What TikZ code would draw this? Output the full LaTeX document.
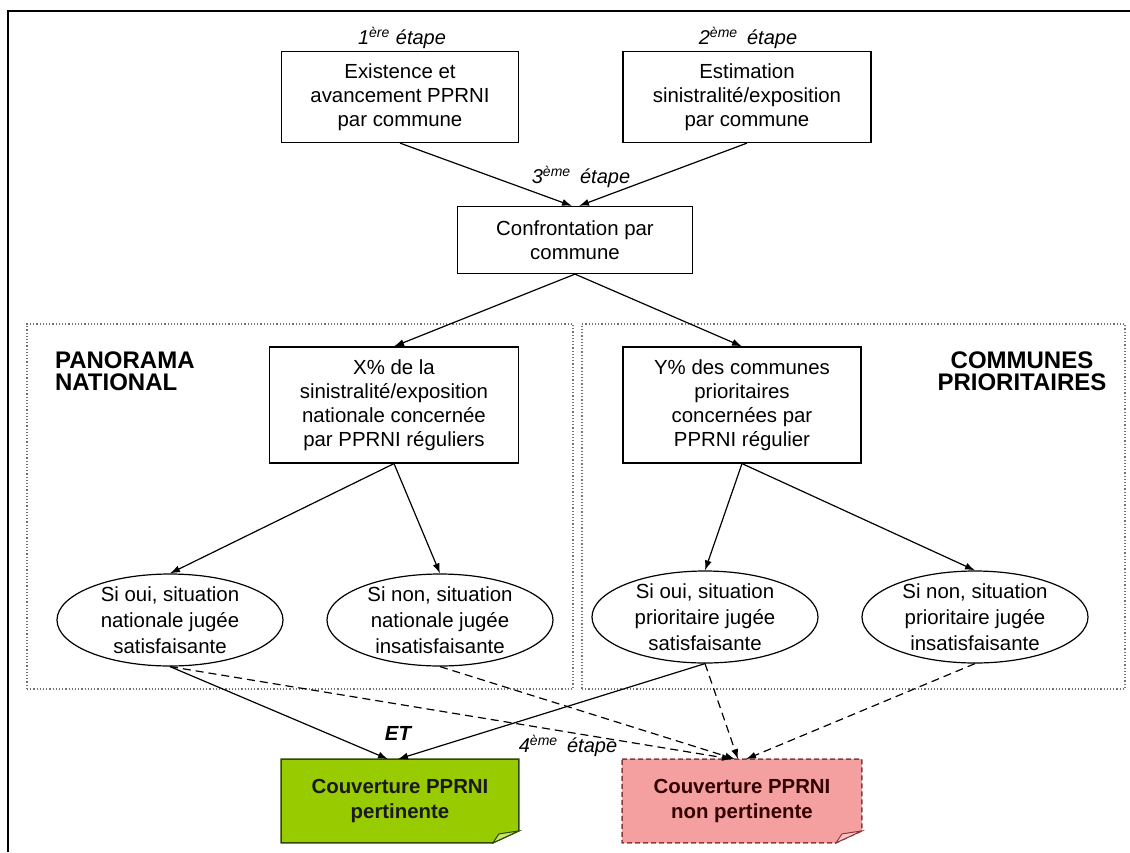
\documentclass[tikz,border=0pt]{standalone}
\usepackage{fontspec}
\setmainfont{Liberation Sans}
\usetikzlibrary{shapes.geometric,arrows.meta,backgrounds,calc}
\definecolor{notegreen}{HTML}{99CC00}
\definecolor{notegreenline}{HTML}{2E4A00}
\definecolor{notered}{HTML}{F5A0A0}
\definecolor{noteredline}{HTML}{8A3A3A}
\tikzset{%
  stepbox/.style    = {shape=rectangle, draw, line width=0.6pt, align=center, inner sep=2pt},%
  choice/.style     = {shape=ellipse, draw, line width=0.6pt, align=center,%
                       inner xsep=0pt, inner ysep=-3pt, minimum width=113pt, minimum height=46pt,%
                       font=\fontsize{10.2}{13}\selectfont},%
  verdict/.style    = {shape=rectangle, align=center, minimum width=118.5pt, minimum height=41.5pt,%
                       font=\fontsize{10.2}{12.5}\selectfont\bfseries},%
  panel/.style      = {shape=rectangle, draw=black!55, densely dotted, line width=0.6pt},%
  paneltitle/.style = {align=left, font=\fontsize{12}{11}\selectfont\bfseries},%
  steplabel/.style  = {font=\fontsize{10}{12}\selectfont\itshape},%
  link/.style       = {->, line width=0.6pt},%
  maybe/.style      = {link, dash pattern=on 4pt off 2.5pt}%
}

\begin{document}
\begin{tikzpicture}[x=0.5pt,y=-0.5pt,>={Latex[length=5pt,width=3.5pt]},every node/.style={font=\fontsize{10.2}{12}\selectfont}]
	\useasboundingbox (0,0) rectangle (1130,852);
	\draw[line width=1.4pt] (8,852) -- (8,11) -- (1130,11);
	% the two panels
	\node[panel, minimum width=273pt, minimum height=182.5pt] (natpanel) at (300,506.5) {};
	\node[panel, minimum width=271.5pt, minimum height=182.5pt] (priopanel) at (853.5,506.5) {};
	\node[paneltitle, anchor=west] (nattitle) at (48,371) {PANORAMA\\NATIONAL};
	\node[paneltitle, align=center] (priotitle) at (1022,371) {COMMUNES\\PRIORITAIRES};
	% steps 1 to 3
	\node[steplabel] (lab1) at (402,38) {1\textsuperscript{ère} étape};
	\node[stepbox, minimum width=118.5pt, minimum height=45.5pt] (exist) at (400,97) {Existence et\\avancement PPRNI\\par commune};
	\node[steplabel] (lab2) at (748,38) {2\textsuperscript{ème}\, étape};
	\node[stepbox, minimum width=124pt, minimum height=45.5pt] (estim) at (747,97) {Estimation\\sinistralité/exposition\\par commune};
	\node[steplabel] (lab3) at (581,177) {3\textsuperscript{ème}\, étape};
	\node[stepbox, minimum width=117.5pt, minimum height=33.5pt] (confront) at (575,240) {Confrontation par\\commune};
	\node[stepbox, minimum width=124.5pt, minimum height=58pt] (natbox) at (394,405) {X\% de la\\sinistralité/exposition\\nationale concernée\\par PPRNI réguliers};
	\node[stepbox, minimum width=119pt, minimum height=58pt] (priobox) at (742,405) {Y\% des communes\\prioritaires\\concernées par\\PPRNI régulier};
	% yes / no
	\node[choice] (natyes) at (170,620) {Si oui, situation\\nationale jugée\\satisfaisante};
	\node[choice] (natno) at (440,620) {Si non, situation\\nationale jugée\\insatisfaisante};
	\node[choice] (prioyes) at (705,617) {Si oui, situation\\prioritaire jugée\\satisfaisante};
	\node[choice] (priono) at (975,617) {Si non, situation\\prioritaire jugée\\insatisfaisante};
	% step 4
	\node[font=\fontsize{10.2}{12}\selectfont\bfseries\itshape] (et) at (398,733) {ET};
	\node[steplabel] (lab4) at (568,746) {4\textsuperscript{ème}\, étape};
	\node[verdict, text=black!90] (ok) at (400,801) {Couverture PPRNI\\pertinente};
	\node[verdict, text=black!80!red, minimum width=119.5pt] (notok) at (742,801) {Couverture PPRNI\\non pertinente};
	\begin{scope}[on background layer]
		\draw[fill=notegreen, draw=notegreenline, line width=0.7pt] (ok.north west) -- (ok.north east) -- ($(ok.south east)+(0,-12)$) -- ($(ok.south east)+(-26,0)$) -- (ok.south west) -- cycle;
		\draw[fill=notegreen!55!white, draw=notegreenline, line width=0.5pt] ($(ok.south east)+(0,-12)$) -- ($(ok.south east)+(-26,0)$) -- ($(ok.south east)+(-20,-9)$) -- cycle;
		\draw[fill=notered, draw=noteredline, line width=0.7pt, dash pattern=on 2.5pt off 1.5pt] (notok.north west) -- (notok.north east) -- ($(notok.south east)+(0,-12)$) -- ($(notok.south east)+(-26,0)$) -- (notok.south west) -- cycle;
		\draw[fill=notered!60!white, draw=noteredline, line width=0.5pt] ($(notok.south east)+(0,-12)$) -- ($(notok.south east)+(-26,0)$) -- ($(notok.south east)+(-20,-9)$) -- cycle;
	\end{scope}
	% connectors
	\draw[link] (exist.south) -- ($(confront.north)+(-3,0)$);
	\draw[link] (estim.south) -- ($(confront.north)+(4,0)$);
	\draw[link] (confront.south) -- (natbox.north);
	\draw[link] (confront.south) -- (priobox.north);
	\draw[link] (natbox.south) -- (natyes.north);
	\draw[link] (natbox.south) -- (natno.north);
	\draw[link] (priobox.south) -- (prioyes.north);
	\draw[link] (priobox.south) -- (priono.north);
	\draw[link] (natyes.south) -- ($(ok.north)+(-12,0)$);
	\draw[link] (prioyes.south) -- ($(ok.north)+(-2,0)$);
	\draw[maybe] (natyes.south) -- ($(notok.north)+(-10,0)$);
	\draw[maybe] (natno.south) -- ($(notok.north)+(-7,0)$);
	\draw[maybe] (prioyes.south) -- ($(notok.north)+(-4,0)$);
	\draw[maybe] (priono.south) -- ($(notok.north)+(4,0)$);
\end{tikzpicture}
\end{document}
